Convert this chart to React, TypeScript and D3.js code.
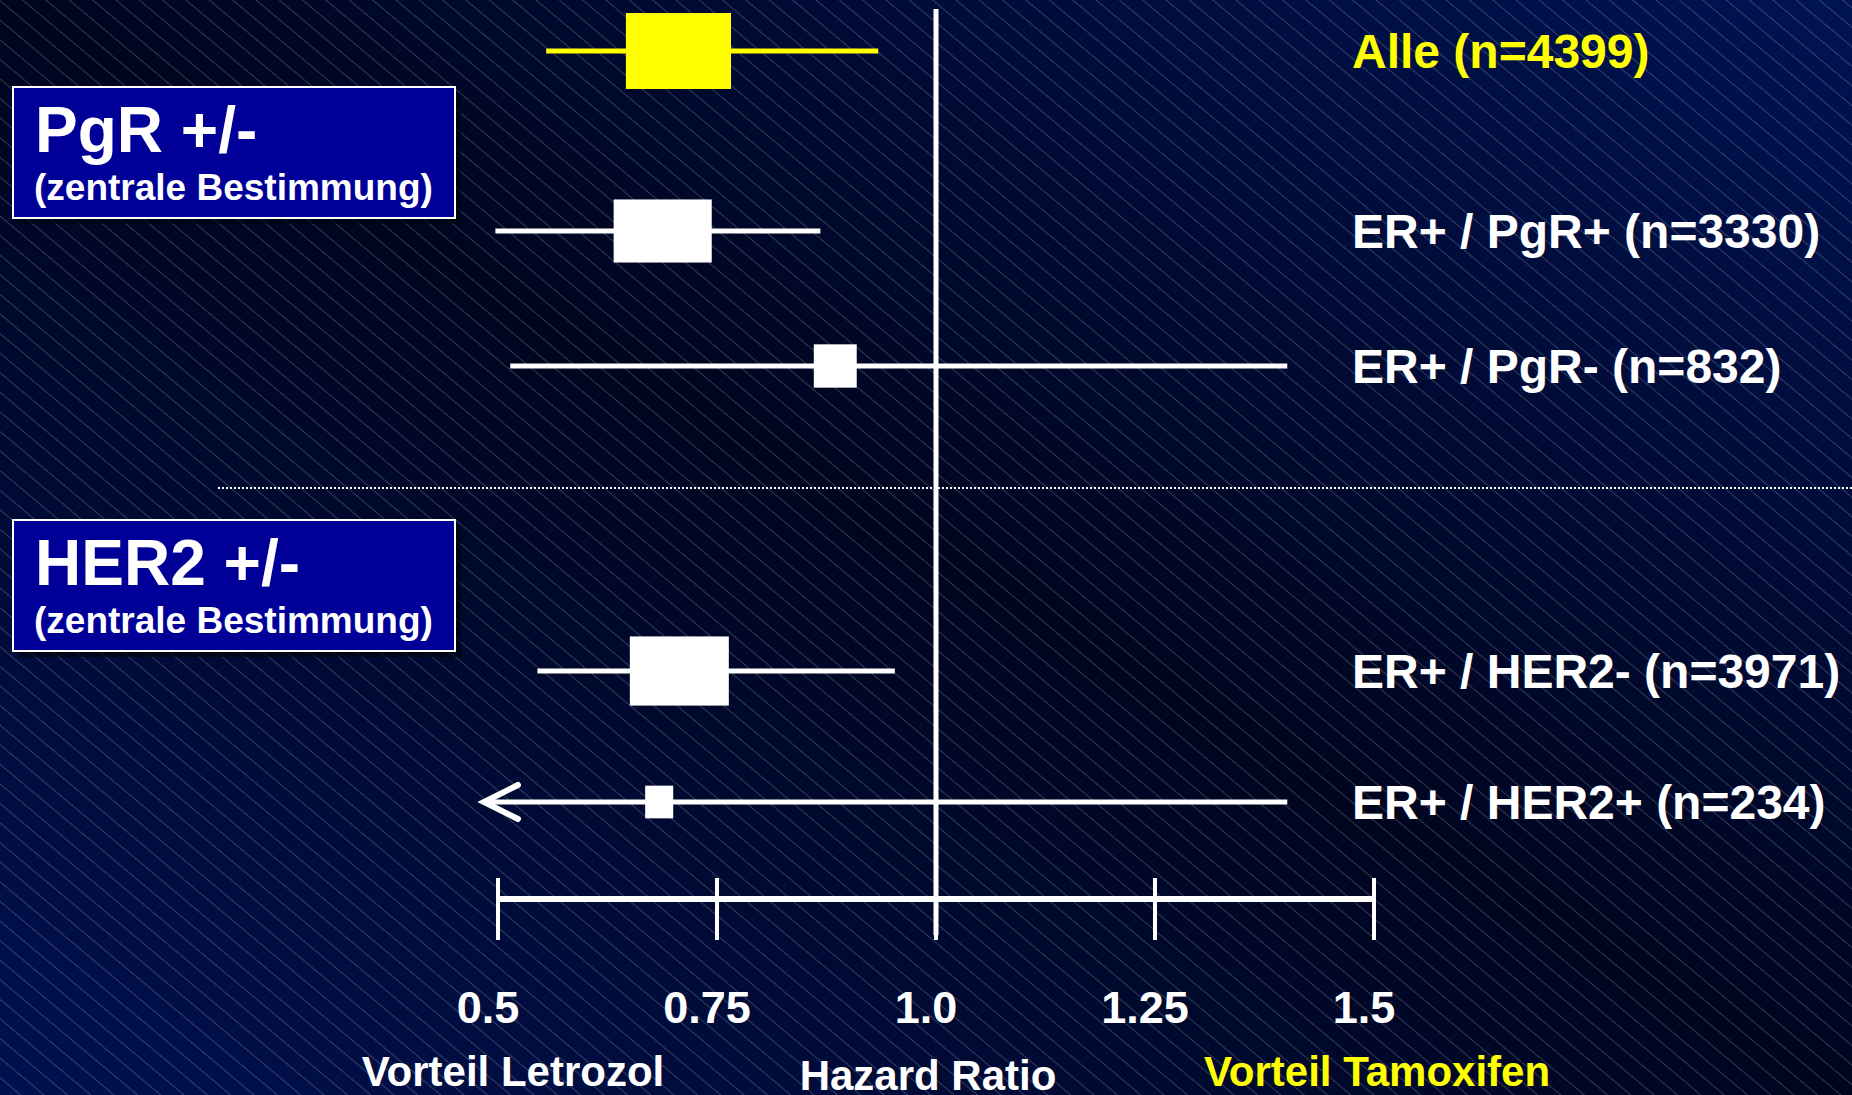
import * as d3 from "d3";

const WIDTH = 1852;
const HEIGHT = 1095;

// Subgroups (top to bottom)
const labels = [
  "Alle (n=4399)",
  "ER+ / PgR+ (n=3330)",
  "ER+ / PgR- (n=832)",
  "ER+ / HER2- (n=3971)",
  "ER+ / HER2+ (n=234)",
];
const hazard = [0.706, 0.688, 0.885, 0.707, 0.684];
const ciLower = [0.555, 0.497, 0.514, 0.545, 0.484];
const ciUpper = [0.934, 0.868, 1.401, 0.953, 1.401];
const truncated = [false, false, false, false, true]; // lower CI runs past the axis
// box width in hazard-ratio units, box height as relative weight
const boxSpan = [0.12, 0.112, 0.049, 0.113, 0.032];
const boxWeight = [100, 83, 57, 91, 43];

const ticks = [0.5, 0.75, 1.0, 1.25, 1.5];
const tickLabels = ["0.5", "0.75", "1.0", "1.25", "1.5"];

const groupTitles = ["PgR +/-", "HER2 +/-"];
const groupSubtitles = ["(zentrale Bestimmung)", "(zentrale Bestimmung)"];

const YELLOW = "#ffff00";
const WHITE = "#ffffff";
const FONT = "'Liberation Sans', Arial, Helvetica, sans-serif";

function createD3(el: HTMLDivElement | null) {
  if (!el) return;
  d3.select(el).selectAll("*").remove();

  const x = d3.scaleLinear().domain([0.5, 1.5]).range([498, 1374]);
  // rows sit at uneven heights: piecewise scale on row index
  const y = d3
    .scaleLinear()
    .domain(d3.range(labels.length))
    .range([51, 231, 366, 671, 802]);
  const boxH = d3.scaleLinear().domain([0, 100]).range([0, 76]);
  const axisY = 899;

  const svg = d3
    .select(el)
    .append("svg")
    .attr("width", WIDTH)
    .attr("height", HEIGHT)
    .style("position", "absolute")
    .style("left", "0px")
    .style("top", "0px")
    .style("font-family", FONT)
    .style("font-weight", "bold");

  const defs = svg.append("defs");
  const grad = defs
    .append("linearGradient")
    .attr("id", "bg")
    .attr("x1", 0)
    .attr("y1", 1)
    .attr("x2", 1)
    .attr("y2", 0);
  grad.append("stop").attr("offset", 0).attr("stop-color", "#00114f");
  grad.append("stop").attr("offset", 0.5).attr("stop-color", "#00051f");
  grad.append("stop").attr("offset", 1).attr("stop-color", "#001352");

  const pat = defs
    .append("pattern")
    .attr("id", "stripes")
    .attr("patternUnits", "userSpaceOnUse")
    .attr("width", 40)
    .attr("height", 15)
    .attr("patternTransform", "rotate(40)");
  pat
    .append("line")
    .attr("x1", 0)
    .attr("x2", 40)
    .attr("y1", 0.5)
    .attr("y2", 0.5)
    .attr("stroke", "#ffffff")
    .attr("stroke-opacity", 0.2)
    .attr("stroke-width", 1);

  svg.append("rect").attr("width", WIDTH).attr("height", HEIGHT).attr("fill", "url(#bg)");
  svg.append("rect").attr("width", WIDTH).attr("height", HEIGHT).attr("fill", "url(#stripes)");

  // dotted separator between the PgR and HER2 blocks
  svg
    .append("line")
    .attr("x1", 218)
    .attr("x2", WIDTH)
    .attr("y1", y(2.4))
    .attr("y2", y(2.4))
    .attr("stroke", WHITE)
    .attr("stroke-width", 2)
    .attr("stroke-dasharray", "2 2");

  // group boxes
  const groupTop = [87, 520];
  groupTitles.forEach((t, i) => {
    const g = svg.append("g").attr("transform", `translate(13,${groupTop[i]})`);
    g.append("rect")
      .attr("x", 6)
      .attr("y", 6)
      .attr("width", 442)
      .attr("height", 131)
      .attr("fill", "#000510")
      .attr("opacity", 0.7);
    g.append("rect")
      .attr("width", 442)
      .attr("height", 131)
      .attr("fill", "#000099")
      .attr("stroke", WHITE)
      .attr("stroke-width", 2);
    g.append("text").attr("x", 22).attr("y", 65).attr("font-size", 64).attr("fill", WHITE).text(t);
    g.append("text")
      .attr("x", 21)
      .attr("y", 113)
      .attr("font-size", 37)
      .attr("fill", WHITE)
      .text(groupSubtitles[i]);
  });

  // reference line at HR = 1
  svg
    .append("line")
    .attr("x1", x(1))
    .attr("x2", x(1))
    .attr("y1", 9)
    .attr("y2", 935)
    .attr("stroke", WHITE)
    .attr("stroke-width", 5);

  // axis
  svg
    .append("line")
    .attr("x1", x(0.5))
    .attr("x2", x(1.5))
    .attr("y1", axisY)
    .attr("y2", axisY)
    .attr("stroke", WHITE)
    .attr("stroke-width", 6);
  svg
    .selectAll(".tick")
    .data(ticks)
    .join("line")
    .attr("class", "tick")
    .attr("x1", (d) => x(d))
    .attr("x2", (d) => x(d))
    .attr("y1", axisY - 21)
    .attr("y2", axisY + 41)
    .attr("stroke", WHITE)
    .attr("stroke-width", 4);
  svg
    .selectAll(".tick-label")
    .data(ticks)
    .join("text")
    .attr("class", "tick-label")
    .attr("x", (d) => x(d) - 10)
    .attr("y", 1023)
    .attr("text-anchor", "middle")
    .attr("font-size", 45)
    .attr("fill", WHITE)
    .text((_, i) => tickLabels[i]);

  svg
    .append("text")
    .attr("x", x(0.5) + 15)
    .attr("y", 1086)
    .attr("text-anchor", "middle")
    .attr("font-size", 42)
    .attr("fill", WHITE)
    .text("Vorteil Letrozol");
  svg
    .append("text")
    .attr("x", x(1) - 8)
    .attr("y", 1090)
    .attr("text-anchor", "middle")
    .attr("font-size", 42)
    .attr("fill", WHITE)
    .text("Hazard Ratio");
  svg
    .append("text")
    .attr("x", x(1.5) + 3)
    .attr("y", 1086)
    .attr("text-anchor", "middle")
    .attr("font-size", 42)
    .attr("fill", YELLOW)
    .text("Vorteil Tamoxifen");

  // rows, bound to their index
  const rows = svg
    .selectAll(".row")
    .data(d3.range(labels.length))
    .join("g")
    .attr("class", "row")
    .attr("transform", (i) => `translate(0,${y(i)})`);
  const color = (i: number) => (i === 0 ? YELLOW : WHITE);

  rows
    .append("line")
    .attr("x1", (i) => x(ciLower[i]))
    .attr("x2", (i) => x(ciUpper[i]))
    .attr("stroke", (i) => color(i))
    .attr("stroke-width", 5);

  rows
    .filter((i) => truncated[i])
    .append("path")
    .attr("d", (i) => {
      const tip = x(ciLower[i]);
      return `M${tip + 34},-17L${tip},0L${tip + 34},17`;
    })
    .attr("fill", "none")
    .attr("stroke", WHITE)
    .attr("stroke-width", 6)
    .attr("stroke-linecap", "round")
    .attr("stroke-linejoin", "miter");

  rows
    .append("rect")
    .attr("x", (i) => x(hazard[i] - boxSpan[i] / 2))
    .attr("width", (i) => x(hazard[i] + boxSpan[i] / 2) - x(hazard[i] - boxSpan[i] / 2))
    .attr("y", (i) => -boxH(boxWeight[i]) / 2)
    .attr("height", (i) => boxH(boxWeight[i]))
    .attr("fill", (i) => color(i));

  rows
    .append("text")
    .attr("x", 1352)
    .attr("dy", "0.36em")
    .attr("font-size", 48)
    .attr("fill", (i) => color(i))
    .text((i) => labels[i]);
}

export default function App() {
  return <div ref={createD3} style={{ width: WIDTH, height: HEIGHT }} />;
}
